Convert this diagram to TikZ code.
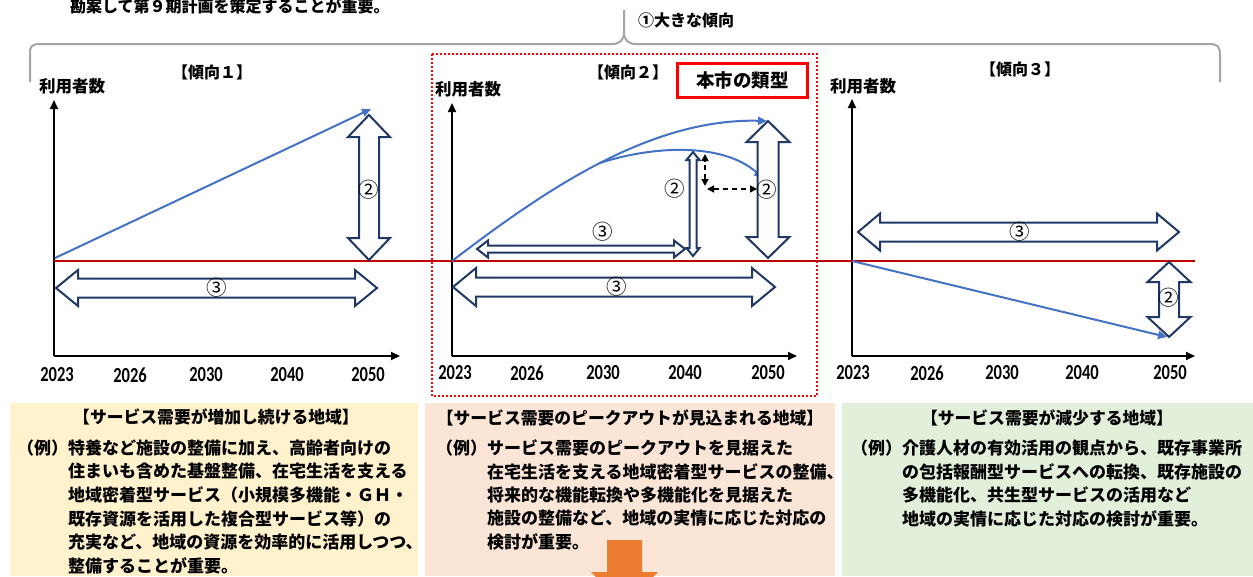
\documentclass[tikz,border=0pt]{standalone}
\usepackage{fontspec}
\usepackage{graphicx}
\newfontfamily\jp{Noto Sans CJK JP}
\newfontfamily\numf{Carlito}
\usetikzlibrary{arrows.meta}
\definecolor{bl}{HTML}{4472C4}
\definecolor{nv}{HTML}{1F3864}
\definecolor{rd}{HTML}{C00000}
\definecolor{yl}{HTML}{FFF2CC}
\definecolor{sa}{HTML}{FBE5D6}
\definecolor{gn}{HTML}{E2EFDA}
\definecolor{org}{HTML}{ED7D31}
\definecolor{gy}{HTML}{A6A6A6}
\newcommand\fsz[1]{\fontsize{#1}{#1}\selectfont}
% vertical double block arrow: x, ytop, ybot, half head, half shaft, head length
\newcommand\vdarr[6]{\draw[blk] (#1,#2) -- (#1+#4,#2+#6) -- (#1+#5,#2+#6) -- (#1+#5,#3-#6) -- (#1+#4,#3-#6) -- (#1,#3) -- (#1-#4,#3-#6) -- (#1-#5,#3-#6) -- (#1-#5,#2+#6) -- (#1-#4,#2+#6) -- cycle;}
% horizontal double block arrow: y, xleft, xright, half head, half shaft, head length
\newcommand\hdarr[6]{\draw[blk] (#2,#1) -- (#2+#6,#1-#4) -- (#2+#6,#1-#5) -- (#3-#6,#1-#5) -- (#3-#6,#1-#4) -- (#3,#1) -- (#3-#6,#1+#4) -- (#3-#6,#1+#5) -- (#2+#6,#1+#5) -- (#2+#6,#1+#4) -- cycle;}
\tikzset{
  blk/.style={draw=nv, line width=2pt, fill=white, line join=miter},
  axisline/.style={black, line width=2pt, -{Triangle[length=9pt,width=8pt]}},
  blueline/.style={bl, line width=2pt, -{Triangle[length=9pt,width=8pt]}},
  dasharr/.style={black, line width=1.6pt, dash pattern=on 5pt off 4pt, {Triangle[length=7pt,width=7pt]}-{Triangle[length=7pt,width=7pt]}},
  yr/.style={font=\numf\bfseries\fsz{16.5}, inner sep=0},
  lbl/.style={font=\jp\bfseries\fsz{16}, inner sep=0},
  circ/.style={font=\jp\fsz{20.5}, inner sep=0},
  body/.style={font=\jp\bfseries\fsz{17}, inner sep=0, anchor=west},
  btitle/.style={font=\jp\bfseries\fsz{16.8}, inner sep=0},
}
\begin{document}
\begin{tikzpicture}[x=1pt,y=-1pt]
\useasboundingbox (0,0) rectangle (1253,576);
\fill[white] (0,0) rectangle (1253,576);

% top text and brace
\node[lbl, anchor=west] (toptext) at (70,6) {勘案して第９期計画を策定することが重要。};
\draw[gy, line width=2pt] (30,82) -- (30,54) .. controls (30,45) and (32,44) .. (42,44) -- (612,44) .. controls (620,44) and (624,40) .. (624,32) -- (624,10);
\draw[gy, line width=2pt] (624,32) .. controls (624,40) and (628,44) .. (636,44) -- (1208,44) .. controls (1218,44) and (1220,46) .. (1220,56) -- (1220,82);
\node[lbl, anchor=west] (trend) at (638,20) {①大きな傾向};

% bottom boxes
\fill[yl] (10,403) rectangle (418,576);
\fill[sa] (425,403) rectangle (835,576);
\fill[gn] (842,403) rectangle (1253,576);

% red dotted frame
\draw[red, line width=2pt, dash pattern=on 2pt off 2pt] (432,54) rectangle (817,396);
\node[draw=red, line width=3pt, minimum width=130pt, minimum height=34pt, inner sep=0, font=\jp\bfseries\fsz{18.5}] (ours) at (742.5,80.5) {本市の類型};

% titles
\node[lbl] (t1) at (212,72) {【傾向１】};
\node[lbl] (t2) at (628,72) {【傾向２】};
\node[lbl] (t3) at (1020,69) {【傾向３】};
\node[lbl, font=\jp\bfseries\fsz{16.5}] (u1) at (72,86) {利用者数};
\node[lbl, font=\jp\bfseries\fsz{16.5}] (u2) at (468,89) {利用者数};
\node[lbl, font=\jp\bfseries\fsz{16.5}] (u3) at (863,86) {利用者数};

% axes
\coordinate (o1) at (54,356); \coordinate (y1) at (54,100); \coordinate (x1) at (400,356);
\coordinate (o2) at (452,356); \coordinate (y2) at (452,103); \coordinate (x2) at (797,356);
\coordinate (o3) at (852,356); \coordinate (y3) at (852,99); \coordinate (x3) at (1195,356);
\draw[axisline] (o1) -- (y1);
\draw[axisline] (o1) -- (x1);
\draw[axisline] (o2) -- (y2);
\draw[axisline] (o2) -- (x2);
\draw[axisline] (o3) -- (y3);
\draw[axisline] (o3) -- (x3);

% red baseline
\coordinate (r0) at (54,261); \coordinate (r1) at (1195,261);
\draw[rd, line width=2pt] (r0) -- (r1);

% years
\foreach \xx/\yy/\t [count=\i] in {57/375/2023,130/375/2026,206/375/2030,287/375/2040,368/375/2050,
  455/373/2023,527/373/2026,603/373/2030,685/373/2040,768/373/2050,
  853/373/2023,927/373/2026,1002/373/2030,1082/373/2040,1170/373/2050}
  \node[yr] (yr\i) at (\xx,\yy) {\scalebox{1}[1.3]{\t}};

% panel 1
\coordinate (b1s) at (55,258); \coordinate (b1e) at (371,109);
\draw[blueline] (b1s) -- (b1e);
\vdarr{369}{115}{260}{21}{10}{22}
\node[circ] (p1c2) at (369,190) {②};
\hdarr{288}{56}{377}{18}{9.5}{22}
\node[circ] (p1c3) at (217,288) {③};

% panel 2
\coordinate (b2s) at (452,261); \coordinate (b2e) at (767,121);
\coordinate (b2m) at (600,163); \coordinate (b2f) at (763,178);
\draw[blueline] (b2s) .. controls (545,190) and (650,118) .. (b2e);
\draw[blueline] (b2m) .. controls (652,146) and (722,142) .. (b2f);
\vdarr{693}{152}{256}{6.5}{3.5}{8}
\node[circ] (p2c2a) at (675,189) {②};
\hdarr{249}{477}{685}{8.5}{3.5}{11}
\node[circ] (p2c3a) at (603,232) {③};
\hdarr{287}{453}{775}{19}{9.5}{23}
\node[circ] (p2c3b) at (617,287) {③};
\vdarr{768}{121}{258}{21.5}{10.5}{21}
\node[circ] (p2c2b) at (767,190) {②};
\coordinate (d1) at (705,154); \coordinate (d2) at (705,186);
\coordinate (d3) at (707,189); \coordinate (d4) at (757,189);
\draw[dasharr] (d2) -- (d1);
\draw[dasharr] (d3) -- (d4);

% panel 3
\coordinate (b3s) at (852,261); \coordinate (b3e) at (1167,337);
\draw[blueline] (b3s) -- (b3e);
\hdarr{232}{858}{1179}{18.5}{9.5}{22}
\node[circ] (p3c3) at (1020,232) {③};
\vdarr{1169}{262}{337}{21.5}{10}{20}
\node[circ] (p3c2) at (1169,298) {②};

% box 1 text
\node[btitle] (h1) at (216,417) {【サービス需要が増加し続ける地域】};
\node[body] (a1) at (17,448) {（例）特養など施設の整備に加え、高齢者向けの};
\node[body] (a2) at (68,471.5) {住まいも含めた基盤整備、在宅生活を支える};
\node[body] (a3) at (68,495) {地域密着型サービス（小規模多機能・ＧＨ・};
\node[body] (a4) at (68,518.5) {既存資源を活用した複合型サービス等）の};
\node[body] (a5) at (68,542) {充実など、地域の資源を効率的に活用しつつ、};
\node[body] (a6) at (68,565.5) {整備することが重要。};

% box 2 text
\node[btitle] (h2) at (630,418) {【サービス需要のピークアウトが見込まれる地域】};
\node[body] (c1) at (436,448) {（例）サービス需要のピークアウトを見据えた};
\node[body] (c2) at (487,471.5) {在宅生活を支える地域密着型サービスの整備、};
\node[body] (c3) at (487,495) {将来的な機能転換や多機能化を見据えた};
\node[body] (c4) at (487,518.5) {施設の整備など、地域の実情に応じた対応の};
\node[body] (c5) at (487,542) {検討が重要。};
\fill[org] (607,540) -- (642,540) -- (642,572) -- (658,572) -- (624.5,606) -- (591,572) -- (607,572) -- cycle;

% box 3 text
\node[btitle] (h3) at (1047,418) {【サービス需要が減少する地域】};
\node[body] (e1) at (851,448) {（例）介護人材の有効活用の観点から、既存事業所};
\node[body] (e2) at (902,471.5) {の包括報酬型サービスへの転換、既存施設の};
\node[body] (e3) at (902,495) {多機能化、共生型サービスの活用など};
\node[body] (e4) at (902,518.5) {地域の実情に応じた対応の検討が重要。};
\end{tikzpicture}
\end{document}
